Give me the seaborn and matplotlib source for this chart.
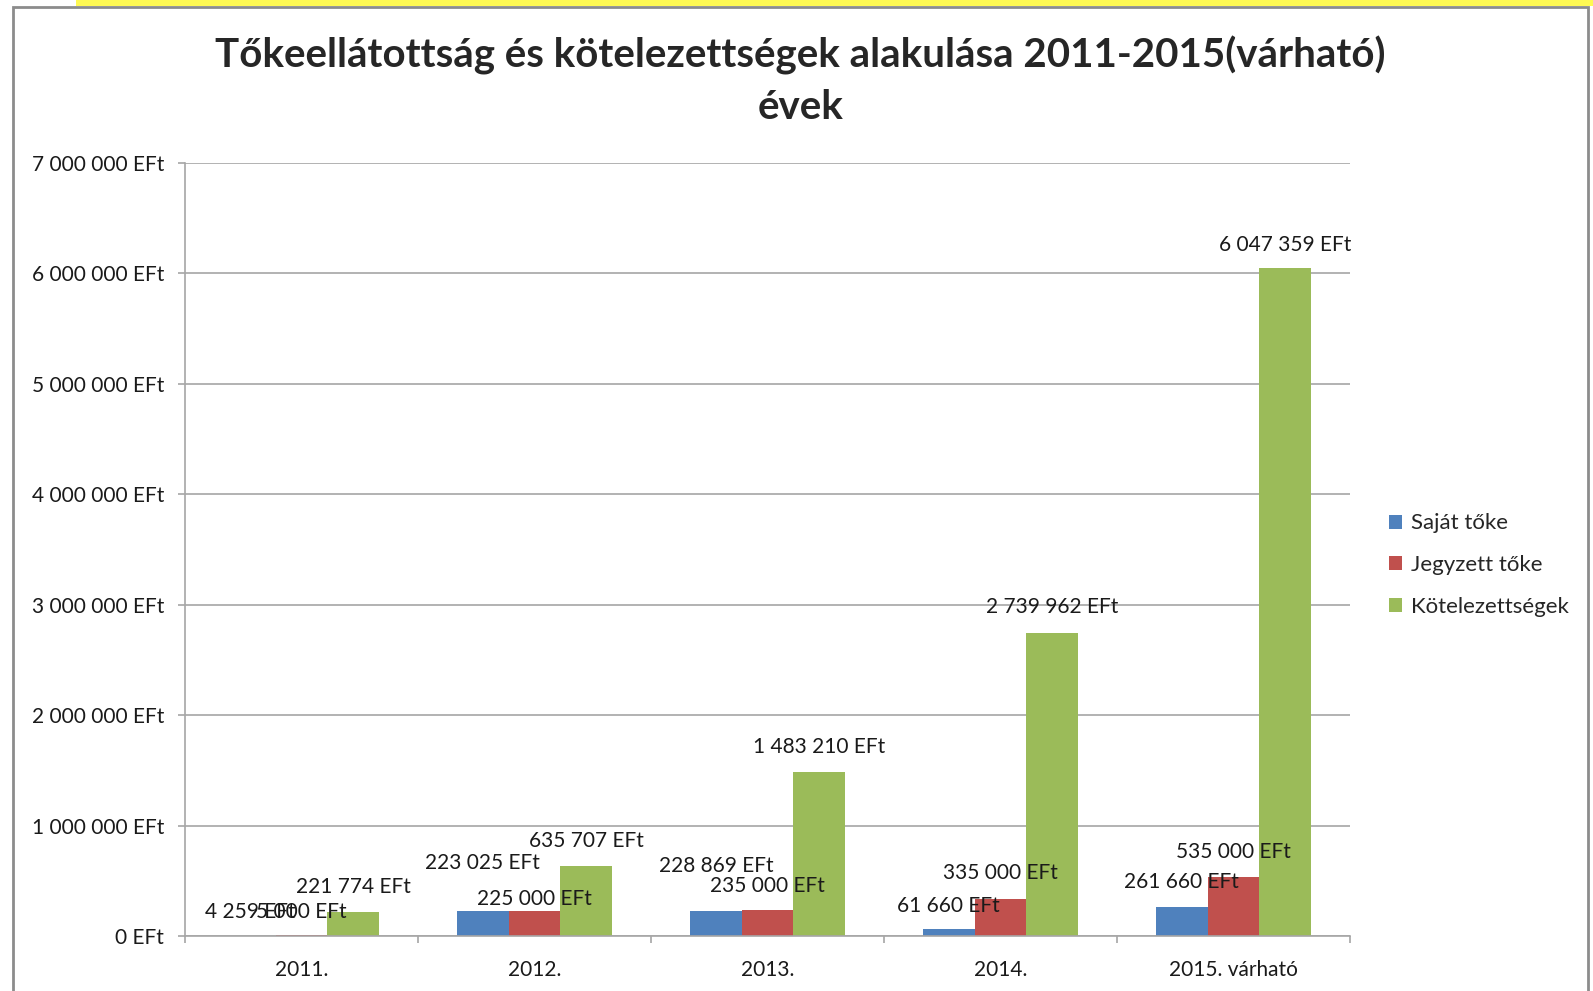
import matplotlib
matplotlib.use("Agg")
import matplotlib.pyplot as plt
import matplotlib.ticker as mticker
from matplotlib.patches import Rectangle
import pandas as pd
import seaborn as sns

# ── Data ─────────────────────────────────────────────────────────────────────
years = ["2011.", "2012.", "2013.", "2014.", "2015. várható"]
series = ["Saját tőke", "Jegyzett tőke", "Kötelezettségek"]
sajat_toke = [4259, 223025, 228869, 61660, 261660]
jegyzett_toke = [5000, 225000, 235000, 335000, 535000]
kotelezettsegek = [221774, 635707, 1483210, 2739962, 6047359]
colors = ["#4F81BD", "#C0504D", "#9BBB59"]
title = "Tőkeellátottság és kötelezettségek alakulása 2011-2015(várható)\névek"

# label lift above each bar (points), per series / year - Excel moved a few
label_lift = [
    [17, 35, 32, 17, 18],
    [17, 9, 17, 19, 18],
    [18, 18, 18, 19, 17],
]

df = pd.DataFrame({
    "ev": years * 3,
    "sorozat": [s for s in series for _ in years],
    "ertek": sajat_toke + jegyzett_toke + kotelezettsegek,
})


def eft(v):
    return f"{int(round(v)):,} EFt".replace(",", " ")


sns.set_style("white")
plt.rcParams["font.family"] = ["Lato", "DejaVu Sans"]

W, H = 1593, 991
fig = plt.figure(figsize=(W / 100, H / 100), dpi=100)
ax = fig.add_axes([185 / W, 1 - 936 / H, (1350 - 185) / W, (936 - 163) / H])

sns.barplot(data=df, x="ev", y="ertek", hue="sorozat", order=years,
            hue_order=series, palette=colors, width=0.665, gap=0,
            linewidth=0, saturation=1, ax=ax)

# data labels
for si, cont in enumerate(ax.containers):
    for yi, bar in enumerate(cont):
        ax.annotate(eft(bar.get_height()),
                    (bar.get_x() + bar.get_width() / 2, bar.get_height()),
                    xytext=(0, label_lift[si][yi]), textcoords="offset points",
                    ha="center", va="center", fontsize=15, color="#1a1a1a")

# axes styling
ax.set_ylim(0, 7_000_000)
ax.set_xlim(-0.5, len(years) - 0.5)
ax.yaxis.set_major_locator(mticker.MultipleLocator(1_000_000))
ax.yaxis.set_major_formatter(mticker.FuncFormatter(lambda v, p: eft(v)))
ax.grid(axis="y", color="#a6a6a6", lw=1.2)
ax.set_axisbelow(True)
for side in ["top", "right"]:
    ax.spines[side].set_visible(False)
for side in ["left", "bottom"]:
    ax.spines[side].set_color("#a6a6a6")
    ax.spines[side].set_linewidth(1.2)
ax.set_xlabel("")
ax.set_ylabel("")
ax.tick_params(axis="y", length=5, width=1.2, color="#a6a6a6", pad=10,
               labelsize=15, labelcolor="#1a1a1a", left=True)
ax.tick_params(axis="x", which="major", length=0, pad=17, labelsize=15,
               labelcolor="#1a1a1a")
ax.set_xticks([i - 0.5 for i in range(len(years) + 1)], minor=True)
ax.tick_params(axis="x", which="minor", length=5, width=1.2,
               color="#a6a6a6", bottom=True)

sns.move_legend(ax, "center left", bbox_to_anchor=(1369 / W, 1 - 565 / H),
                bbox_transform=fig.transFigure, frameon=False, title=None,
                fontsize=16, handlelength=0.6, handleheight=0.6,
                handletextpad=0.4, labelspacing=0.97)

fig.text(0.5 + 4 / W, 1 - 81 / H, title, ha="center", va="center",
         fontsize=29, fontweight="bold", linespacing=1.45)

# chart frame and the yellow strip above it
fig.add_artist(Rectangle((13 / W, -0.1), (1588 - 13) / W, 0.1 + 1 - 7 / H,
                         transform=fig.transFigure, fill=False,
                         edgecolor="#8c8c8c", lw=2))
fig.add_artist(Rectangle((76 / W, 1 - 6 / H), 1, 6 / H,
                         transform=fig.transFigure, color="#fff952", lw=0))

fig.savefig("out.png", dpi=100)
